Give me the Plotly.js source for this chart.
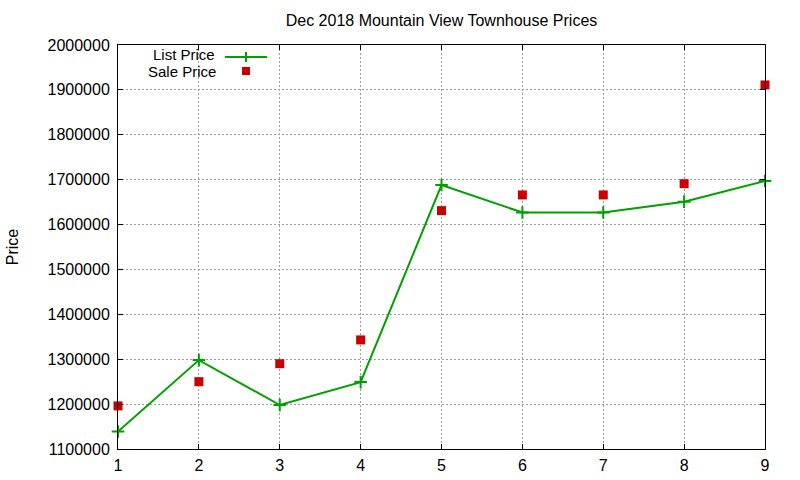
<!DOCTYPE html>
<html>
<head>
<meta charset="utf-8">
<script src="https://cdn.plot.ly/plotly-3.0.1.min.js"></script>
<style>html,body{margin:0;padding:0;background:#fff}#chart{width:800px;height:480px}</style>
</head>
<body>
<div id="chart"></div>
<script>
const months = [1, 2, 3, 4, 5, 6, 7, 8, 9];
const listPrice = [1139000, 1298000, 1198000, 1249000, 1688000, 1627000, 1627000, 1651000, 1697000];
const salePrice = [1196000, 1250000, 1290000, 1343000, 1631000, 1666000, 1666000, 1691000, 1911000];
const yTicks = [1100000, 1200000, 1300000, 1400000, 1500000, 1600000, 1700000, 1800000, 1900000, 2000000];

const green = '#00a000';
const red = '#cc0000';
const font = 'Liberation Sans, Arial, sans-serif';

const traces = [
  {
    x: months, y: listPrice, type: 'scatter', mode: 'lines+markers', name: 'List Price',
    line: {color: green, width: 2},
    marker: {symbol: 'cross-thin', size: 9, line: {color: green, width: 2}, color: green},
    cliponaxis: false
  },
  {
    x: months, y: salePrice, type: 'scatter', mode: 'markers', name: 'Sale Price',
    marker: {symbol: 'square', size: 9, color: red},
    cliponaxis: false
  }
];

const W = 800, H = 480, L = 118, R = 35, T = 45, B = 31;
const pw = W - L - R, ph = H - T - B;
const px = v => (v - L) / pw;
const py = v => (H - B - v) / ph;

const layout = {
  width: W, height: H,
  margin: {l: L, r: R, t: T, b: B, pad: 0},
  paper_bgcolor: '#fff', plot_bgcolor: '#fff',
  showlegend: false,
  font: {family: font, size: 16, color: '#000'},
  title: {text: 'Dec 2018 Mountain View Townhouse Prices', font: {family: font, size: 16, color: '#000'},
          xref: 'paper', x: 0.5, xanchor: 'center', y: 1 - 20 / H, yanchor: 'middle', yref: 'container'},
  xaxis: {
    range: [1, 9], tickvals: months, ticktext: months.map(String),
    showline: true, mirror: 'ticks', linecolor: '#000', linewidth: 1,
    ticks: 'inside', ticklen: 5, tickcolor: '#000', tickwidth: 1,
    showgrid: true, gridcolor: '#a0a0a0', griddash: '2px,2px', gridwidth: 1,
    zeroline: false, ticklabelstandoff: 2,
    tickfont: {family: font, size: 16, color: '#000'}
  },
  yaxis: {
    range: [1100000, 2000000], tickvals: yTicks, ticktext: yTicks.map(String),
    showline: true, mirror: 'ticks', linecolor: '#000', linewidth: 1,
    ticks: 'inside', ticklen: 5, tickcolor: '#000', tickwidth: 1,
    showgrid: true, gridcolor: '#a0a0a0', griddash: '2px,2px', gridwidth: 1,
    zeroline: false, ticklabelstandoff: 4,
    tickfont: {family: font, size: 16, color: '#000'},
    title: {text: 'Price', font: {family: font, size: 16, color: '#000'}, standoff: 24}
  },
  annotations: [
    {text: 'List Price', xref: 'paper', yref: 'paper', x: px(217), y: py(54), xanchor: 'right', yanchor: 'middle',
     showarrow: false, font: {family: font, size: 15, color: '#000'}},
    {text: 'Sale Price', xref: 'paper', yref: 'paper', x: px(218), y: py(71.5), xanchor: 'right', yanchor: 'middle',
     showarrow: false, font: {family: font, size: 15, color: '#000'}}
  ],
  shapes: [
    {type: 'line', xref: 'paper', yref: 'paper', x0: px(225), x1: px(267), y0: py(57), y1: py(57),
     line: {color: green, width: 2}},
    {type: 'line', xref: 'paper', yref: 'paper', x0: px(246), x1: px(246), y0: py(52), y1: py(62),
     line: {color: green, width: 2}},
    {type: 'rect', xref: 'paper', yref: 'paper', x0: px(242), x1: px(250), y0: py(67), y1: py(75),
     fillcolor: red, line: {width: 0}}
  ]
};

Plotly.newPlot('chart', traces, layout, {staticPlot: true, displayModeBar: false});
</script>
</body>
</html>
